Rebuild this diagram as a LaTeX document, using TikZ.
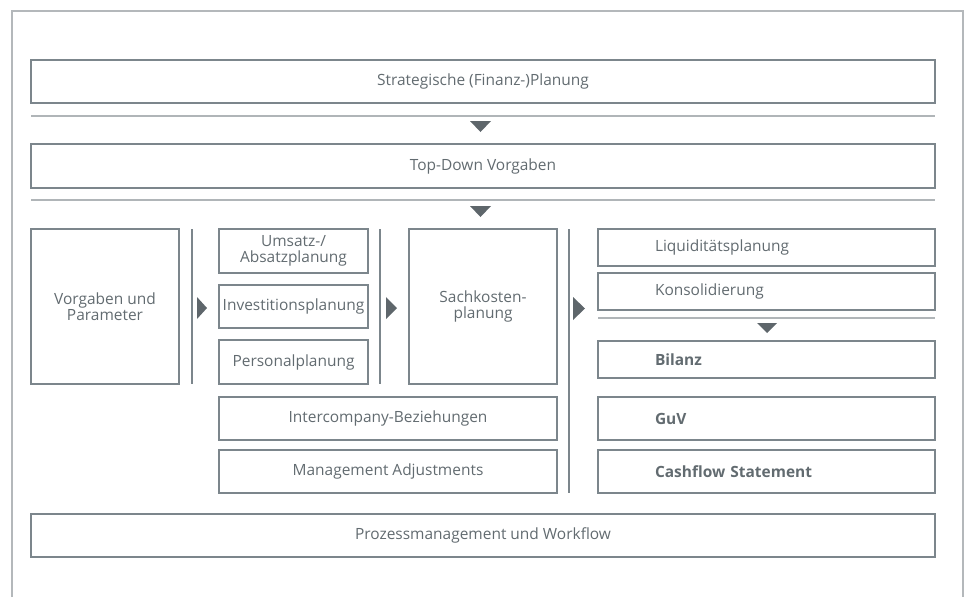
\documentclass[tikz,border=0pt]{standalone}
\usepackage{fontspec}
\setmainfont{Open Sans}
\usetikzlibrary{arrows}
\definecolor{rahmen}{HTML}{B4B8BB}
\definecolor{kasten}{HTML}{7C868C}
\definecolor{trenner}{HTML}{B0B5B8}
\definecolor{schrift}{HTML}{626B70}
\definecolor{pfeil}{HTML}{5E666B}
\newcommand\boxfont{\fontsize{11.6}{12.4}\selectfont}
\tikzset{
  box/.style 2 args={draw=kasten,line width=0.95pt,text=schrift,align=center,inner sep=0pt,
    minimum width=#1*0.75pt,minimum height=#2*0.75pt,font=\boxfont},
  rbox/.style={box={337}{#1},align=left,inner xsep=42.75pt,text width=167.25pt},
  sep/.style={draw=trenner,line width=1pt},
  tri/.style={fill=pfeil,draw=none}
}
\begin{document}
\begin{tikzpicture}[line cap=butt,line join=miter,x=0.75pt,y=-0.75pt]
\useasboundingbox (0,0) rectangle (970,597);
\draw [draw=rahmen,line width=1.1pt] (12,597)-- (12,11)-- (963,11)-- (963,597);
% obere Ebene
\node [box={904}{43}] (strat) at (483,81.5) {Strategische (Finanz-)Planung};
\coordinate (s1) at (31,116);
\coordinate (s2) at (935,116);
\draw [sep] (s1)-- (s2);
\fill [tri] (470,121)-- (491,121)-- (480.5,132)-- cycle;
\node [box={904}{44}] (topdown) at (483,166) {Top-Down Vorgaben};
\coordinate (t1) at (31,200);
\coordinate (t2) at (935,200);
\draw [sep] (t1)-- (t2);
\fill [tri] (470,206)-- (491,206)-- (480.5,217)-- cycle;
% Planungsebene
\node [box={148}{155}] (vorg) at (105,306.5) {Vorgaben und\\Parameter};
\draw [sep,draw=kasten] (192,229)-- (192,384);
\fill [tri] (197,297)-- (207,308)-- (197,319)-- cycle;
\node [box={149}{44}] (umsatz) at (293.5,251) {Umsatz-/\\Absatzplanung};
\node [box={149}{43}] (invest) at (293.5,306.5) {Investitionsplanung};
\node [box={149}{44}] (personal) at (293.5,362) {Personalplanung};
\draw [sep,draw=kasten] (380,229)-- (380,384);
\fill [tri] (386,297)-- (397,308)-- (386,319)-- cycle;
\node [box={148}{155}] (sach) at (483,306.5) {Sachkosten-\\planung};
\node [box={338}{43}] (ic) at (388,418.5) {Intercompany-Beziehungen};
\node [box={338}{43}] (mgmt) at (388,471.5) {Management Adjustments};
\draw [sep,draw=kasten] (569,229)-- (569,493);
\fill [tri] (573,297)-- (585,308.5)-- (573,320)-- cycle;
% Ergebnisse
\node [rbox={37}] (liq) at (766.5,247.5) {Liquiditätsplanung};
\node [rbox={37}] (kons) at (766.5,291.5) {Konsolidierung};
\coordinate (k1) at (598,318);
\coordinate (k2) at (935,318);
\draw [sep] (k1)-- (k2);
\fill [tri] (757,323)-- (777,323)-- (767,333)-- cycle;
\node [rbox={37},font=\boxfont\bfseries] (bilanz) at (766.5,359.5) {Bilanz};
\node [rbox={43},font=\boxfont\bfseries] (guv) at (766.5,418.5) {GuV};
\node [rbox={43},font=\boxfont\bfseries] (cash) at (766.5,471.5) {Cashflow Statement};
% Basis
\node [box={904}{43}] (prozess) at (483,535.5) {Prozessmanagement und Workflow};
\end{tikzpicture}
\end{document}
